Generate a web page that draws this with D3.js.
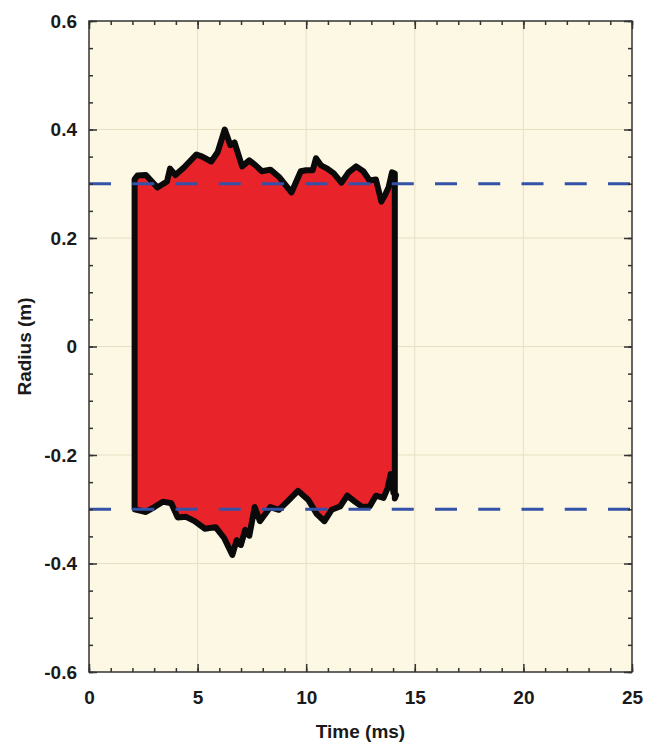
<!DOCTYPE html>
<html>
<head>
<meta charset="utf-8">
<script src="https://cdn.jsdelivr.net/npm/d3@7"></script>
<style>
  html, body { margin: 0; padding: 0; background: #ffffff; }
  svg { display: block; }
  text { font-family: "Liberation Sans", Arial, sans-serif; font-weight: bold; fill: #1a1a1a; }
</style>
</head>
<body>
<svg id="chart" width="662" height="743"></svg>
<script>
// Upper boundary of the jet radius (time in ms, radius in m)
const topTime   = [2.10, 2.23, 2.62, 3.15, 3.59, 3.73, 3.98, 4.37, 4.95, 5.21, 5.63, 5.92, 6.25, 6.51, 6.70, 7.05, 7.38, 7.67, 7.96, 8.35, 8.74, 9.32, 9.75, 10.00, 10.30, 10.45, 10.68, 10.97, 11.27, 11.62, 11.95, 12.30, 12.63, 12.92, 13.21, 13.46, 13.64, 13.79, 13.95, 14.08];
const topRadius = [0.308, 0.315, 0.316, 0.293, 0.304, 0.328, 0.316, 0.330, 0.354, 0.350, 0.341, 0.358, 0.400, 0.371, 0.376, 0.332, 0.343, 0.334, 0.323, 0.326, 0.313, 0.284, 0.323, 0.325, 0.325, 0.347, 0.334, 0.328, 0.319, 0.302, 0.321, 0.332, 0.323, 0.306, 0.308, 0.267, 0.280, 0.293, 0.321, 0.319];

// Lower boundary of the jet radius
const bottomTime   = [2.10, 2.62, 3.01, 3.40, 3.79, 4.08, 4.47, 4.86, 5.34, 5.83, 6.22, 6.60, 6.80, 6.99, 7.19, 7.38, 7.63, 7.87, 8.35, 8.74, 9.13, 9.62, 10.10, 10.49, 10.84, 11.17, 11.56, 11.89, 12.24, 12.59, 12.92, 13.21, 13.56, 13.75, 13.89, 14.02, 14.14, 14.08];
const bottomRadius = [-0.300, -0.305, -0.296, -0.286, -0.289, -0.315, -0.314, -0.322, -0.336, -0.333, -0.353, -0.384, -0.357, -0.366, -0.338, -0.349, -0.296, -0.322, -0.296, -0.301, -0.286, -0.266, -0.283, -0.309, -0.322, -0.301, -0.295, -0.275, -0.286, -0.296, -0.295, -0.275, -0.279, -0.261, -0.235, -0.270, -0.274, -0.280];

// Nozzle radius reference lines
const referenceRadius = [0.3, -0.3];

// Axis ticks
const xTicks = [0, 5, 10, 15, 20, 25];
const yTicks = [-0.6, -0.4, -0.2, 0, 0.2, 0.4, 0.6];
const xMinorTicks = d3.range(0, 25.001, 1);
const yMinorTicks = d3.range(-0.6, 0.6001, 0.05);

const svg = d3.select("#chart");
const plot = { left: 89, right: 632, top: 21, bottom: 672 };

const x = d3.scaleLinear().domain([0, 25]).range([plot.left, plot.right]);
const y = d3.scaleLinear().domain([-0.6, 0.6]).range([plot.bottom, plot.top]);

// Plot background
svg.append("rect")
  .attr("x", plot.left).attr("y", plot.top)
  .attr("width", plot.right - plot.left).attr("height", plot.bottom - plot.top)
  .attr("fill", "#fdf8e3");

// Grid lines at major ticks
const grid = svg.append("g").attr("stroke", "#e6dfc4").attr("stroke-width", 1);
grid.selectAll(".gx").data(xTicks.slice(1, -1)).join("line")
  .attr("x1", d => x(d)).attr("x2", d => x(d))
  .attr("y1", plot.top).attr("y2", plot.bottom);
grid.selectAll(".gy").data(yTicks.slice(1, -1)).join("line")
  .attr("x1", plot.left).attr("x2", plot.right)
  .attr("y1", d => y(d)).attr("y2", d => y(d));

// Jet outline: upper edge followed by lower edge in reverse
const outline = topTime.map((t, i) => [t, topRadius[i]])
  .concat(bottomTime.map((t, i) => [t, bottomRadius[i]]).reverse());

const line = d3.line().x(d => x(d[0])).y(d => y(d[1])).curve(d3.curveLinearClosed);

svg.append("path")
  .attr("d", line(outline))
  .attr("fill", "#e8232a")
  .attr("stroke", "#0a0a0a")
  .attr("stroke-width", 6)
  .attr("stroke-linejoin", "round");

// Dashed reference lines
svg.selectAll(".ref").data(referenceRadius).join("line")
  .attr("x1", plot.left).attr("x2", plot.right)
  .attr("y1", d => y(d)).attr("y2", d => y(d))
  .attr("stroke", "#3352a8")
  .attr("stroke-width", 3)
  .attr("stroke-dasharray", "22,21.25");

// Axes with inward ticks on all four sides
const axisColor = "#333";
function addAxis(axis, transform) {
  const g = svg.append("g").attr("transform", transform).call(axis);
  g.select(".domain").remove();
  g.selectAll("line").attr("stroke", axisColor).attr("stroke-width", 1.5);
  return g;
}

const minorOpts = (a) => a.tickFormat("").tickSize(-4);

addAxis(minorOpts(d3.axisBottom(x).tickValues(xMinorTicks)), `translate(0,${plot.bottom})`);
addAxis(minorOpts(d3.axisTop(x).tickValues(xMinorTicks)), `translate(0,${plot.top})`);
addAxis(minorOpts(d3.axisLeft(y).tickValues(yMinorTicks)), `translate(${plot.left},0)`);
addAxis(minorOpts(d3.axisRight(y).tickValues(yMinorTicks)), `translate(${plot.right},0)`);

const labelFont = "Liberation Sans, Arial, sans-serif";

const xAxis = addAxis(d3.axisBottom(x).tickValues(xTicks).tickSize(-8).tickPadding(19).tickFormat(d3.format("d")), `translate(0,${plot.bottom})`);
xAxis.selectAll("text").attr("font-size", 19).attr("fill", "#1a1a1a").attr("font-family", labelFont).attr("font-weight", "bold");

addAxis(d3.axisTop(x).tickValues(xTicks).tickSize(-8).tickFormat(""), `translate(0,${plot.top})`);

const yAxis = addAxis(d3.axisLeft(y).tickValues(yTicks).tickSize(-8).tickPadding(12).tickFormat(d => d === 0 ? "0" : d3.format(".1f")(d).replace("−", "-")), `translate(${plot.left},0)`);
yAxis.selectAll("text").attr("font-size", 19).attr("fill", "#1a1a1a").attr("font-family", labelFont).attr("font-weight", "bold");

addAxis(d3.axisRight(y).tickValues(yTicks).tickSize(-8).tickFormat(""), `translate(${plot.right},0)`);

// Frame
svg.append("rect")
  .attr("x", plot.left).attr("y", plot.top)
  .attr("width", plot.right - plot.left).attr("height", plot.bottom - plot.top)
  .attr("fill", "none").attr("stroke", axisColor).attr("stroke-width", 1.5);

// Axis titles
svg.append("text")
  .attr("x", (plot.left + plot.right) / 2).attr("y", 738)
  .attr("text-anchor", "middle")
  .attr("font-size", 19)
  .text("Time (ms)");

svg.append("text")
  .attr("transform", `translate(31,${(plot.top + plot.bottom) / 2}) rotate(-90)`)
  .attr("text-anchor", "middle")
  .attr("font-size", 19)
  .text("Radius (m)");
</script>
</body>
</html>
